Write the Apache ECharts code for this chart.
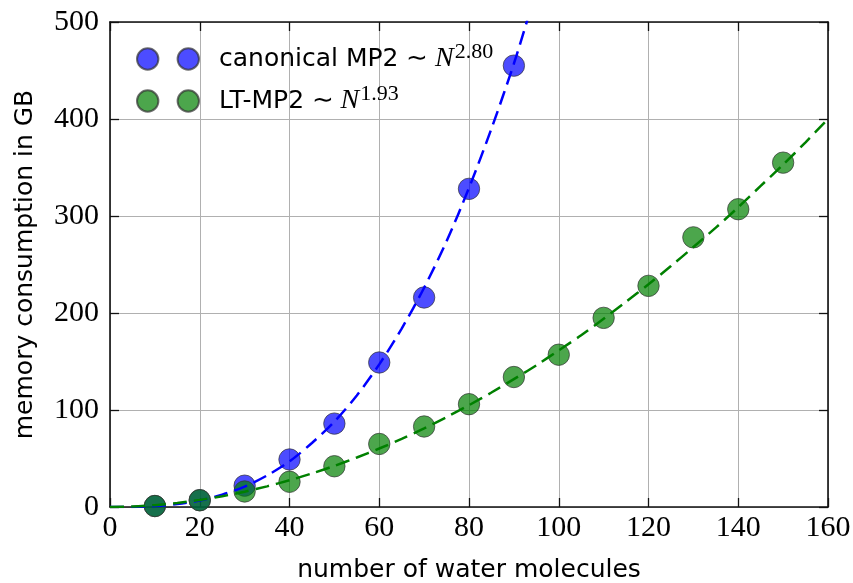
<!DOCTYPE html>
<html>
<head>
<meta charset="utf-8">
<script src="https://cdn.jsdelivr.net/npm/echarts@6/dist/echarts.min.js"></script>
<style>
html,body{margin:0;padding:0;background:#fff;}
#c{width:853px;height:583px;}
</style>
</head>
<body>
<div id="c"></div>
<script>
// measured points
const waterMolecules = [10, 20, 30, 40, 50, 60, 70, 80, 90, 100, 110, 120, 130, 140, 150];
const canonicalMem = [1, 7, 22, 49, 86, 149, 216, 328, 455];
const ltMem = [1, 7, 16, 26, 42, 65, 83, 106, 134, 157, 195, 228, 278, 307, 355];

// dashed fit curves
const fitX = [0, 5, 10, 15, 20, 25, 30, 35, 40, 45, 50, 55, 60, 65, 70, 75, 80, 85, 90, 93];
const canonicalFit = [0, 0.1, 1, 3, 6.8, 12.7, 21, 32.5, 47, 66, 88, 115, 147, 184, 226, 274, 329, 390, 457, 502];
const ltFitX = [0, 5, 10, 15, 20, 25, 30, 35, 40, 45, 50, 55, 60, 65, 70, 75, 80, 85, 90, 95, 100, 105, 110, 115, 120, 125, 130, 135, 140, 145, 150, 155, 160];
const ltFit = [0, 0.5, 1.9, 4.2, 7.2, 11.1, 15.8, 21.3, 27.6, 34.6, 42.4, 51, 60.3, 70.3, 81.1, 92.7, 105, 118, 131.8, 146, 161.5, 177, 194, 211.5, 229.6, 248.4, 268, 288, 309, 331, 353, 376, 400];

const xTicks = { min: 0, max: 160, interval: 20 };
const yTicks = { min: 0, max: 500, interval: 100 };

const pairs = (xs, ys) => ys.map((v, i) => [xs[i], v]);

const chart = echarts.init(document.getElementById('c'), null, { renderer: 'canvas' });

const serif = 'Liberation Serif';
const sans = 'DejaVu Sans';
const axisLineStyle = { color: '#111', width: 1.6 };
const twoCircles = 'path://M0,10.7 A10.7,10.7 0 1,1 21.4,10.7 A10.7,10.7 0 1,1 0,10.7 Z M40.6,10.7 A10.7,10.7 0 1,1 62,10.7 A10.7,10.7 0 1,1 40.6,10.7 Z';

const baseX = {
  type: 'value', min: xTicks.min, max: xTicks.max, interval: xTicks.interval,
  axisLine: { show: true, onZero: false, lineStyle: axisLineStyle },
  axisTick: { show: true, inside: true, length: 9, lineStyle: { color: '#111', width: 1.3 } }
};
const baseY = {
  type: 'value', min: yTicks.min, max: yTicks.max, interval: yTicks.interval,
  axisLine: { show: true, onZero: false, lineStyle: axisLineStyle },
  axisTick: { show: true, inside: true, length: 9, lineStyle: { color: '#111', width: 1.3 } }
};

const option = {
  animation: false,
  backgroundColor: '#fff',
  grid: { left: 110, right: 25, top: 22, bottom: 76, containLabel: false, outerBoundsMode: 'none' },
  legend: {
    orient: 'vertical',
    left: 136,
    top: 41,
    padding: 0,
    itemWidth: 62,
    itemHeight: 21.4,
    itemGap: 10,
    icon: twoCircles,
    data: ['canonical', 'lt'],
    formatter: function (name) {
      if (name === 'canonical') return '{t|canonical MP2 }{m|∼ }{n|N}{s|2.80}';
      return '{t|LT-MP2 }{m|∼ }{n|N}{s|1.93}';
    },
    textStyle: {
      padding: [0, 0, 0, 15],
      rich: {
        t: { fontFamily: sans, fontSize: 25, color: '#000', lineHeight: 36 },
        m: { fontFamily: serif, fontSize: 26, color: '#000', lineHeight: 36 },
        n: { fontFamily: serif, fontStyle: 'italic', fontSize: 28, color: '#000', lineHeight: 36 },
        s: { fontFamily: serif, fontSize: 22, color: '#000', lineHeight: 16, verticalAlign: 'top', padding: [0, 0, 0, 1] }
      }
    }
  },
  xAxis: [
    Object.assign({}, baseX, {
      position: 'bottom',
      name: 'number of water molecules',
      nameLocation: 'middle',
      nameGap: 51,
      nameTextStyle: { fontFamily: sans, fontSize: 25, color: '#000' },
      axisLabel: { show: true, margin: 6, fontFamily: serif, fontSize: 30, color: '#000' },
      splitLine: { show: true, lineStyle: { color: '#b0b0b0', width: 1 } }
    }),
    Object.assign({}, baseX, {
      position: 'top',
      axisLabel: { show: false },
      splitLine: { show: false }
    })
  ],
  yAxis: [
    Object.assign({}, baseY, {
      position: 'left',
      name: 'memory consumption in GB',
      nameLocation: 'middle',
      nameGap: 72,
      nameRotate: 90,
      nameTextStyle: { fontFamily: sans, fontSize: 25, color: '#000' },
      axisLabel: { show: true, margin: 11, fontFamily: serif, fontSize: 30, color: '#000' },
      splitLine: { show: true, lineStyle: { color: '#b0b0b0', width: 1 } }
    }),
    Object.assign({}, baseY, {
      position: 'right',
      axisLabel: { show: false },
      splitLine: { show: false }
    })
  ],
  series: [
    {
      name: 'canonical',
      type: 'scatter',
      data: pairs(waterMolecules, canonicalMem),
      symbol: 'circle',
      symbolSize: 21.4,
      z: 3,
      itemStyle: { color: 'blue', opacity: 0.7, borderColor: '#333', borderWidth: 1 }
    },
    {
      name: 'lt',
      type: 'scatter',
      data: pairs(waterMolecules, ltMem),
      symbol: 'circle',
      symbolSize: 21.4,
      z: 4,
      itemStyle: { color: 'green', opacity: 0.7, borderColor: '#333', borderWidth: 1 }
    },
    {
      name: 'canonicalFit',
      type: 'line',
      data: pairs(fitX, canonicalFit),
      showSymbol: false,
      symbol: 'none',
      smooth: 0.3,
      clip: true,
      z: 5,
      lineStyle: { color: '#0000ff', width: 2.5, type: [14, 7] }
    },
    {
      name: 'ltFit',
      type: 'line',
      data: pairs(ltFitX, ltFit),
      showSymbol: false,
      symbol: 'none',
      smooth: 0.3,
      clip: true,
      z: 5,
      lineStyle: { color: '#008000', width: 2.5, type: [14, 7] }
    }
  ]
};
chart.setOption(option);
</script>
</body>
</html>
